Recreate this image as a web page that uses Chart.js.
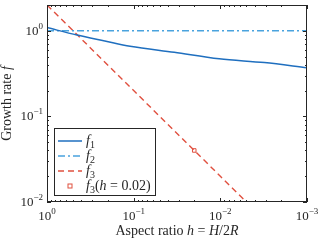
<!DOCTYPE html>
<html>
<head>
<meta charset="utf-8">
<script src="https://cdn.jsdelivr.net/npm/chart.js@4"></script>
<style>
  html, body { margin: 0; padding: 0; background: #fff; }
  #wrap { width: 320px; height: 240px; }
</style>
</head>
<body>
<div id="wrap"><canvas id="myChart"></canvas></div>
<script>
// data
const f1H      = [1, 0.45, 0.215, 0.11, 0.034, 0.0103, 0.0031, 0.001];
const f1Values = [1.09, 0.89, 0.76, 0.66, 0.56, 0.47, 0.425, 0.37];
const f2H      = [1, 0.001];
const f2Values = [1, 1];
const f3H      = [1, 0.1, 0.01, 0.005];
const f3Values = [2, 0.2, 0.02, 0.01];
const markerH  = [0.02];
const markerF  = [0.04];

const xTicks = [1, 0.1, 0.01, 0.001];
const xExp   = ["0", "\u22121", "\u22122", "\u22123"];
const yTicks = [0.01, 0.1, 1];
const yExp   = ["\u22122", "\u22121", "0"];

const serif = "'Liberation Serif', 'DejaVu Serif', serif";
const axisCol = "#262626";

function pts(xs, ys) {
  return xs.map((x, i) => ({ x: x, y: ys[i] }));
}

// draws 10^exp, align 'center' or 'right'
function drawPow(ctx, exp, x, y, align) {
  ctx.font = "13px " + serif;
  const wb = ctx.measureText("10").width;
  ctx.font = "9px " + serif;
  const we = ctx.measureText(exp).width;
  let x0 = align === "right" ? x - wb - we : x - (wb + we) / 2;
  ctx.textAlign = "left";
  ctx.textBaseline = "alphabetic";
  ctx.font = "13px " + serif;
  ctx.fillText("10", x0, y);
  ctx.font = "9px " + serif;
  ctx.fillText(exp, x0 + wb, y - 6);
}

// draw a run of [text, font, dy] pieces starting at x
function drawRun(ctx, parts, x, y) {
  for (const p of parts) {
    ctx.font = p[1];
    ctx.fillText(p[0], x, y + (p[2] || 0));
    x += ctx.measureText(p[0]).width;
  }
  return x;
}
function runWidth(ctx, parts) {
  let w = 0;
  for (const p of parts) { ctx.font = p[1]; w += ctx.measureText(p[0]).width; }
  return w;
}

const frame = {
  id: "frame",
  afterDraw(chart) {
    const ctx = chart.ctx;
    const a = chart.chartArea;
    const xs = chart.scales.x, ys = chart.scales.y;
    ctx.save();
    ctx.strokeStyle = axisCol;
    ctx.lineWidth = 1;
    ctx.strokeRect(Math.round(a.left) + 0.5, Math.round(a.top) + 0.5,
                   Math.round(a.right - a.left) - 1, Math.round(a.bottom - a.top) - 1);

    // inward ticks on all four sides
    ctx.beginPath();
    for (let d = -3; d <= 0; d++) {
      for (let m = 1; m <= 9; m++) {
        const v = m * Math.pow(10, d);
        if (v < 0.001 || v > 1) continue;
        const px = Math.round(xs.getPixelForValue(v)) + 0.5;
        const len = m === 1 ? 4 : 2;
        ctx.moveTo(px, a.bottom); ctx.lineTo(px, a.bottom - len);
        ctx.moveTo(px, a.top); ctx.lineTo(px, a.top + len);
      }
    }
    for (let d = -2; d <= 0; d++) {
      for (let m = 1; m <= 9; m++) {
        const v = m * Math.pow(10, d);
        if (v < 0.01 || v > 2) continue;
        const py = Math.round(ys.getPixelForValue(v)) + 0.5;
        const len = m === 1 ? 4 : 2;
        ctx.moveTo(a.left, py); ctx.lineTo(a.left + len, py);
        ctx.moveTo(a.right, py); ctx.lineTo(a.right - len, py);
      }
    }
    ctx.stroke();

    // tick labels
    ctx.fillStyle = axisCol;
    xTicks.forEach((v, i) => drawPow(ctx, xExp[i], xs.getPixelForValue(v), a.bottom + 18, "center"));
    yTicks.forEach((v, i) => drawPow(ctx, yExp[i], a.left - 4, ys.getPixelForValue(v) + 4, "right"));

    // axis titles
    const rom = "14px " + serif, it = "italic 14px " + serif;
    const xt = [["Aspect ratio ", rom], ["h", it], [" = ", rom], ["H", it], ["/2", rom], ["R", it]];
    const cx = (a.left + a.right) / 2;
    drawRun(ctx, xt, cx - runWidth(ctx, xt) / 2, 235);

    const yt = [["Growth rate ", rom], ["f", it]];
    ctx.save();
    ctx.translate(11, (a.top + a.bottom) / 2);
    ctx.rotate(-Math.PI / 2);
    drawRun(ctx, yt, -runWidth(ctx, yt) / 2, 0);
    ctx.restore();

    // legend
    const lx = 54, ly = 128, lw = 101, lh = 67;
    ctx.fillStyle = "#fff";
    ctx.fillRect(lx, ly, lw, lh);
    ctx.strokeStyle = axisCol;
    ctx.lineWidth = 1;
    ctx.strokeRect(lx + 0.5, ly + 0.5, lw, lh);
    const sub = "10px " + serif;
    const labels = [
      [["f", it], ["1", sub, 3]],
      [["f", it], ["2", sub, 3]],
      [["f", it], ["3", sub, 3]],
      [["f", it], ["3", sub, 3], ["(", rom], ["h", it], [" = 0.02)", rom]]
    ];
    chart.data.datasets.forEach((ds, i) => {
      const y = ly + 13 + i * 15;
      ctx.strokeStyle = ds.borderColor;
      ctx.lineWidth = ds.borderWidth;
      if (i < 3) {
        ctx.setLineDash(ds.borderDash || []);
        ctx.beginPath();
        ctx.moveTo(lx + 4, y); ctx.lineTo(lx + 28, y);
        ctx.stroke();
        ctx.setLineDash([]);
      } else {
        ctx.strokeRect(lx + 14, y - 2, 4, 4);
      }
      ctx.fillStyle = axisCol;
      drawRun(ctx, labels[i], lx + 32, y + 4);
    });
    ctx.restore();
  }
};

const ctx = document.getElementById("myChart").getContext("2d");
new Chart(ctx, {
  type: "scatter",
  data: {
    datasets: [
      {
        label: "f1",
        data: pts(f1H, f1Values),
        showLine: true,
        borderColor: "#1f6fbf",
        borderWidth: 1.5,
        pointRadius: 0,
        cubicInterpolationMode: "monotone"
      },
      {
        label: "f2",
        data: pts(f2H, f2Values),
        showLine: true,
        borderColor: "#4aa3de",
        borderWidth: 1.4,
        borderDash: [7, 3, 2, 3],
        pointRadius: 0
      },
      {
        label: "f3",
        data: pts(f3H, f3Values),
        showLine: true,
        borderColor: "#e0503f",
        borderWidth: 1.4,
        borderDash: [6, 4],
        pointRadius: 0
      },
      {
        label: "f3(h = 0.02)",
        data: pts(markerH, markerF),
        showLine: false,
        borderColor: "#e0503f",
        backgroundColor: "rgba(0,0,0,0)",
        borderWidth: 1,
        pointStyle: "rect",
        pointRadius: 2.5
      }
    ]
  },
  options: {
    responsive: true,
    maintainAspectRatio: false,
    animation: false,
    layout: { padding: { top: 1, right: 13, left: 0, bottom: 0 } },
    plugins: { legend: { display: false }, tooltip: { enabled: false } },
    scales: {
      x: {
        type: "logarithmic",
        reverse: true,
        min: 0.001,
        max: 1,
        grid: { display: false, drawTicks: false },
        border: { display: false },
        ticks: { display: false },
        afterFit: (s) => { s.height = 38; }
      },
      y: {
        type: "logarithmic",
        min: 0.01,
        max: 2,
        grid: { display: false, drawTicks: false },
        border: { display: false },
        ticks: { display: false },
        afterFit: (s) => { s.width = 47; }
      }
    }
  },
  plugins: [frame]
});
</script>
</body>
</html>
